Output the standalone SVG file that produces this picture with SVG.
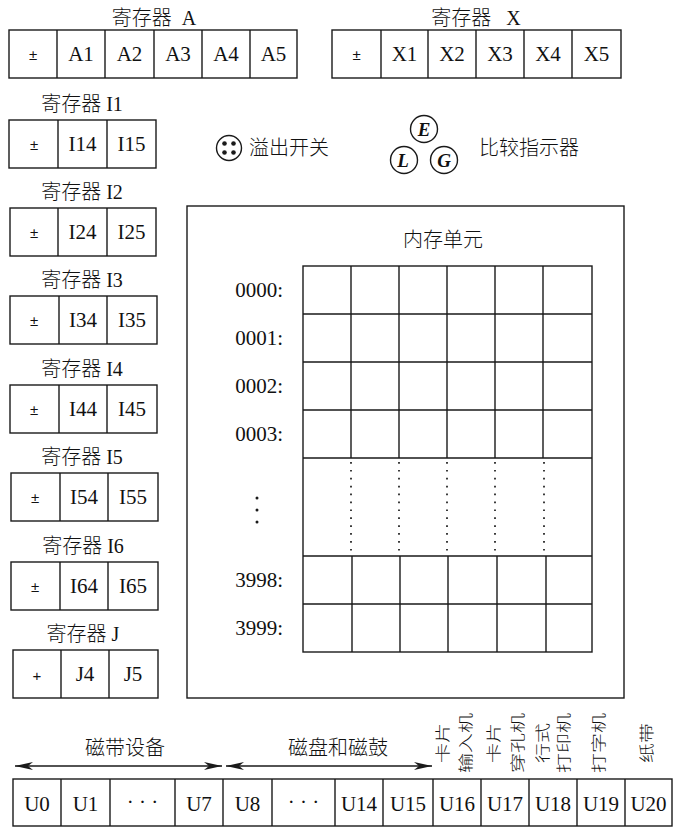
<svg xmlns="http://www.w3.org/2000/svg" width="673" height="827" viewBox="0 0 673 827">
<style>
.box{fill:none;stroke:#1a1a1a;stroke-width:1.4}
.ln{stroke:#1a1a1a;stroke-width:1.4;fill:none}
.dot{stroke:#1a1a1a;stroke-width:1.7;stroke-dasharray:1.7 6.2;fill:none}
.t{font-family:"Liberation Serif","Noto Sans CJK SC",serif;font-size:21px;fill:#111;text-anchor:middle}
.te{font-family:"Liberation Serif",serif;font-size:21px;fill:#111;text-anchor:end}
.c{font-family:"Noto Sans CJK SC",sans-serif;font-size:20px;font-weight:300;fill:#111}
.cm{font-family:"Noto Sans CJK SC",sans-serif;font-size:20px;font-weight:300;fill:#111;text-anchor:middle}
.ct{font-family:"Liberation Serif","Noto Sans CJK SC",sans-serif;font-size:20px;font-weight:300;fill:#111;text-anchor:middle}
.pm{font-family:"Liberation Sans",sans-serif;font-size:15px;fill:#111;text-anchor:middle}
.v{font-family:"Noto Sans CJK SC",sans-serif;font-size:20px;font-weight:300;fill:#111;text-anchor:middle;dominant-baseline:central}
.it{font-family:"Liberation Serif",serif;font-size:19px;font-style:italic;font-weight:bold;fill:#111;text-anchor:middle}
</style>
<defs>
<marker id="ah" viewBox="0 0 18 9" refX="18" refY="4.5" markerWidth="18" markerHeight="9" markerUnits="userSpaceOnUse" orient="auto-start-reverse">
<path d="M0,0.5 L18,4.5 L0,8.5 L5,4.5 z" fill="#1a1a1a"/>
</marker>
</defs>

<g id="regA">
<text class="ct" x="154" y="25" xml:space="preserve">寄存器  A</text>
<rect class="box" x="9" y="30" width="288" height="48"/>
<path class="ln" d="M57,30V78M105,30V78M154,30V78M202,30V78M250,30V78"/>
<text class="pm" x="33" y="60">±</text>
<text class="t" x="81" y="61">A1</text>
<text class="t" x="129.5" y="61">A2</text>
<text class="t" x="178" y="61">A3</text>
<text class="t" x="226" y="61">A4</text>
<text class="t" x="273.5" y="61">A5</text>
</g>

<g id="regX">
<text class="ct" x="476" y="25" xml:space="preserve">寄存器   X</text>
<rect class="box" x="332" y="30" width="289" height="48"/>
<path class="ln" d="M381,30V78M428,30V78M476,30V78M524,30V78M572,30V78"/>
<text class="pm" x="356.5" y="60">±</text>
<text class="t" x="404.5" y="61">X1</text>
<text class="t" x="452" y="61">X2</text>
<text class="t" x="500" y="61">X3</text>
<text class="t" x="548" y="61">X4</text>
<text class="t" x="596.5" y="61">X5</text>
</g>

<g id="regI1">
<text class="ct" x="82" y="111">寄存器 I1</text>
<rect class="box" x="9" y="120" width="147" height="48"/>
<path class="ln" d="M58,120V168M107,120V168"/>
<text class="pm" x="34" y="150">±</text>
<text class="t" x="82.5" y="151">I14</text>
<text class="t" x="131.5" y="151">I15</text>
</g>

<g id="regI2">
<text class="ct" x="82" y="199">寄存器 I2</text>
<rect class="box" x="10" y="208" width="146" height="48"/>
<path class="ln" d="M58,208V256M107,208V256"/>
<text class="pm" x="34" y="238">±</text>
<text class="t" x="82.5" y="239">I24</text>
<text class="t" x="131.5" y="239">I25</text>
</g>

<g id="regI3">
<text class="ct" x="82" y="287">寄存器 I3</text>
<rect class="box" x="10" y="296" width="147" height="48"/>
<path class="ln" d="M59,296V344M107,296V344"/>
<text class="pm" x="34" y="326">±</text>
<text class="t" x="83" y="327">I34</text>
<text class="t" x="132" y="327">I35</text>
</g>

<g id="regI4">
<text class="ct" x="82" y="376">寄存器 I4</text>
<rect class="box" x="10" y="385" width="147" height="48"/>
<path class="ln" d="M59,385V433M107,385V433"/>
<text class="pm" x="34" y="415">±</text>
<text class="t" x="83" y="416">I44</text>
<text class="t" x="132" y="416">I45</text>
</g>

<g id="regI5">
<text class="ct" x="82" y="464">寄存器 I5</text>
<rect class="box" x="11" y="473" width="147" height="48"/>
<path class="ln" d="M60,473V521M108,473V521"/>
<text class="pm" x="35" y="503">±</text>
<text class="t" x="84" y="504">I54</text>
<text class="t" x="133" y="504">I55</text>
</g>

<g id="regI6">
<text class="ct" x="83" y="553">寄存器 I6</text>
<rect class="box" x="11" y="562" width="147" height="48"/>
<path class="ln" d="M60,562V610M108,562V610"/>
<text class="pm" x="35" y="592">±</text>
<text class="t" x="84" y="593">I64</text>
<text class="t" x="133" y="593">I65</text>
</g>

<g id="regJ">
<text class="ct" x="83" y="641">寄存器 J</text>
<rect class="box" x="13" y="650" width="145" height="48"/>
<path class="ln" d="M61,650V698M109,650V698"/>
<text class="pm" x="37" y="681">+</text>
<text class="t" x="85" y="681">J4</text>
<text class="t" x="133" y="681">J5</text>
</g>

<g id="overflow">
<circle class="box" cx="229" cy="148" r="12.5"/>
<circle cx="224.5" cy="143.5" r="2.3" fill="#1a1a1a"/>
<circle cx="233.5" cy="143.5" r="2.3" fill="#1a1a1a"/>
<circle cx="224.5" cy="152.5" r="2.3" fill="#1a1a1a"/>
<circle cx="233.5" cy="152.5" r="2.3" fill="#1a1a1a"/>
<text class="c" x="249" y="155">溢出开关</text>
</g>

<g id="comparator">
<circle class="box" cx="424" cy="129" r="13.5"/>
<circle class="box" cx="404" cy="160" r="13.5"/>
<circle class="box" cx="444" cy="160" r="13.5"/>
<text class="it" x="424" y="135.5">E</text>
<text class="it" x="403" y="166.5">L</text>
<text class="it" x="444" y="166.5">G</text>
<text class="c" x="479" y="155">比较指示器</text>
</g>

<g id="memory">
<rect class="box" x="187" y="206" width="437" height="492"/>
<text class="cm" x="443" y="247">内存单元</text>
<rect class="box" x="303" y="266" width="289" height="386"/>
<path class="ln" d="M303,314H592M303,362H592M303,410H592M303,458H592M303,556H592M303,604H592"/>
<path class="ln" d="M351,266V458M399,266V458M447,266V458M495,266V458M543,266V458"/>
<path class="ln" d="M352,556V652M400,556V652M448,556V652M497,556V652M546,556V652"/>
<path class="dot" d="M351,462V552M399,462V552M447,462V552M495,462V552M544,462V552"/>
<text class="te" x="283" y="297">0000:</text>
<text class="te" x="283" y="345">0001:</text>
<text class="te" x="283" y="393">0002:</text>
<text class="te" x="283" y="441">0003:</text>
<circle cx="257" cy="498" r="1.5" fill="#1a1a1a"/>
<circle cx="257" cy="510" r="1.5" fill="#1a1a1a"/>
<circle cx="257" cy="522" r="1.5" fill="#1a1a1a"/>
<text class="te" x="283" y="587">3998:</text>
<text class="te" x="283" y="635">3999:</text>
</g>

<g id="devices">
<text class="cm" x="125" y="755">磁带设备</text>
<text class="cm" x="338" y="755">磁盘和磁鼓</text>
<rect class="box" x="13" y="779" width="659" height="47"/>
<path class="ln" d="M61,779V826M110,779V826M175,779V826M223,779V826M272,779V826M335,779V826M383,779V826M433,779V826M481,779V826M529,779V826M577,779V826M625,779V826"/>
<text class="t" x="37" y="811">U0</text>
<text class="t" x="85.5" y="811">U1</text>
<text class="t" x="142.5" y="809">· · ·</text>
<text class="t" x="199" y="811">U7</text>
<text class="t" x="247.5" y="811">U8</text>
<text class="t" x="303.5" y="809">· · ·</text>
<text class="t" x="359" y="811">U14</text>
<text class="t" x="408" y="811">U15</text>
<text class="t" x="457" y="811">U16</text>
<text class="t" x="505" y="811">U17</text>
<text class="t" x="553" y="811">U18</text>
<text class="t" x="601" y="811">U19</text>
<text class="t" x="648.5" y="811">U20</text>
<text class="v" transform="translate(442,743) rotate(-90) scale(1,0.75)">卡片</text>
<text class="v" transform="translate(465,743) rotate(-90) scale(1,0.75)">输入机</text>
<text class="v" transform="translate(493,743) rotate(-90) scale(1,0.75)">卡片</text>
<text class="v" transform="translate(517,743) rotate(-90) scale(1,0.75)">穿孔机</text>
<text class="v" transform="translate(542,743) rotate(-90) scale(1,0.75)">行式</text>
<text class="v" transform="translate(563,743) rotate(-90) scale(1,0.75)">打印机</text>
<text class="v" transform="translate(598,743) rotate(-90) scale(1,0.75)">打字机</text>
<text class="v" transform="translate(646,743) rotate(-90) scale(1,0.75)">纸带</text>
</g>

<g id="connectors">
<line class="ln" x1="15" y1="766" x2="222" y2="766" marker-start="url(#ah)" marker-end="url(#ah)"/>
<line class="ln" x1="226" y1="766" x2="432" y2="766" marker-start="url(#ah)" marker-end="url(#ah)"/>
</g>
</svg>
